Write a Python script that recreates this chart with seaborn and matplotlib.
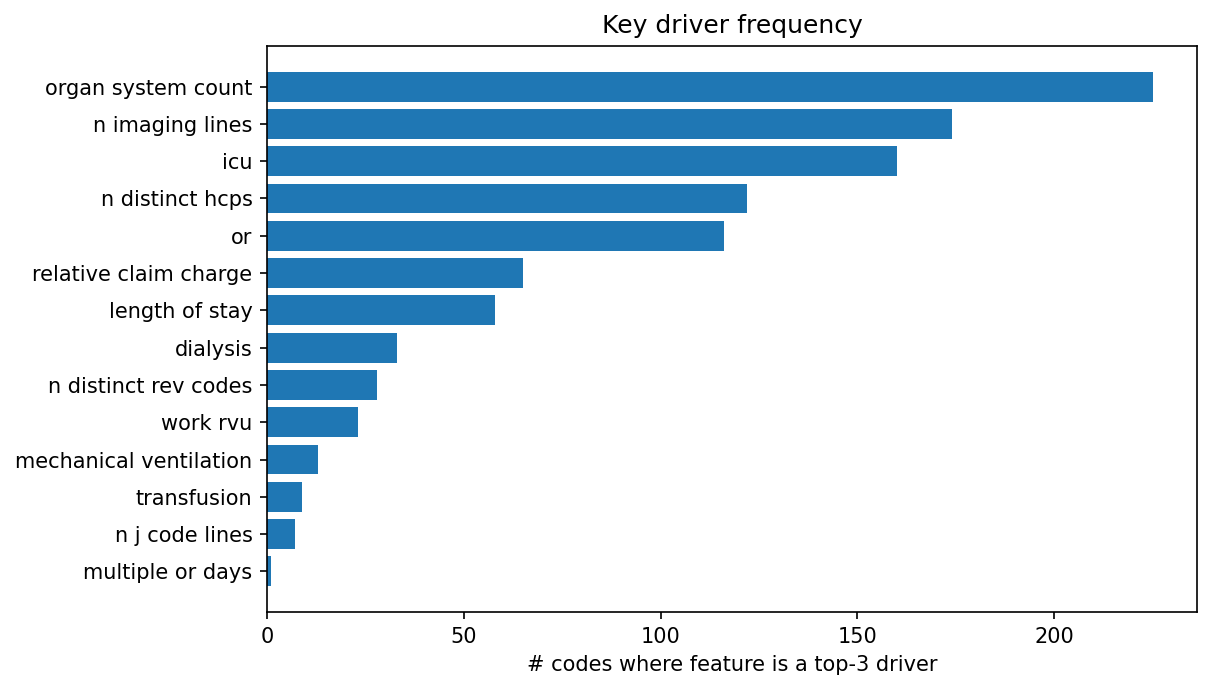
import pandas as pd
import matplotlib
matplotlib.use('Agg')
import matplotlib.pyplot as plt
import seaborn as sns

# Feature names and how often each is a top-3 driver
features = ['organ system count', 'n imaging lines', 'icu', 'n distinct hcps', 'or',
            'relative claim charge', 'length of stay', 'dialysis', 'n distinct rev codes',
            'work rvu', 'mechanical ventilation', 'transfusion', 'n j code lines',
            'multiple or days']
counts = [225, 174, 160, 122, 116, 65, 58, 33, 28, 23, 13, 9, 7, 1]

df = pd.DataFrame({'feature': features, 'count': counts})

fig, ax = plt.subplots(figsize=(1211 / 150, 690 / 150), dpi=150)
sns.barplot(data=df, y='feature', x='count', orient='h', color='#1f77b4',
            saturation=1, width=0.8, ax=ax)

# mimic plain matplotlib barh margins
n = len(features)
pad = 0.05 * (n - 1 + 0.8)
ax.set_ylim(n - 1 + 0.4 + pad, -0.4 - pad)
ax.set_xlim(0, max(counts) * 1.05)

ax.set_title('Key driver frequency')
ax.set_xlabel('# codes where feature is a top-3 driver')
ax.set_ylabel('')

fig.subplots_adjust(left=267 / 1211, right=1197 / 1211, top=1 - 46 / 690, bottom=1 - 612 / 690)
fig.savefig('out.png', dpi=150)
